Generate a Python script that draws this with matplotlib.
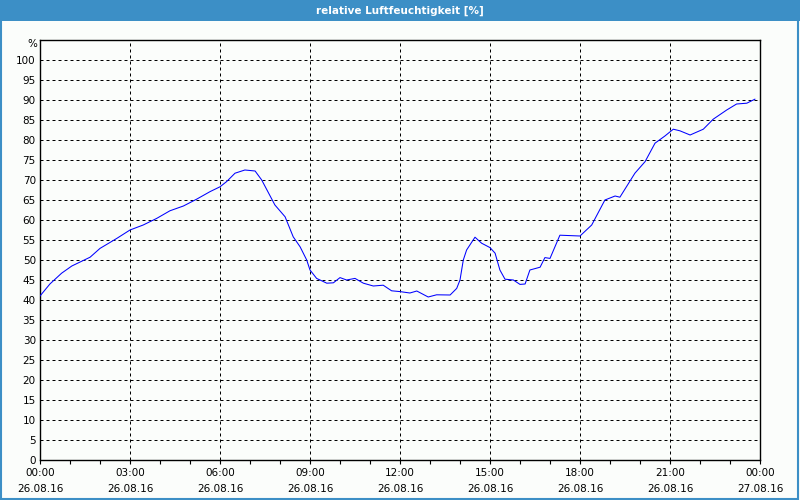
import matplotlib.pyplot as plt
from matplotlib.patches import Rectangle

# Stunden seit 26.08.16 00:00 und relative Luftfeuchtigkeit in %
hours = [0.0, 0.33, 0.72, 1.06, 1.67, 2.0, 2.56, 3.0, 3.44, 3.89, 4.33, 4.78,
         5.22, 5.67, 6.0, 6.22, 6.5, 6.83, 7.17, 7.39, 7.83, 8.17, 8.44, 8.67,
         8.89, 9.0, 9.22, 9.56, 9.78, 10.0, 10.22, 10.5, 10.78, 11.11, 11.44,
         11.72, 12.0, 12.33, 12.56, 12.94, 13.22, 13.67, 13.89, 14.0, 14.11,
         14.22, 14.5, 14.72, 15.0, 15.17, 15.33, 15.5, 15.78, 16.0, 16.17,
         16.33, 16.67, 16.83, 17.0, 17.33, 18.0, 18.39, 18.83, 19.17, 19.33,
         19.83, 20.17, 20.5, 20.83, 21.11, 21.33, 21.67, 22.11, 22.44, 22.89,
         23.22, 23.56, 23.83]
humidity = [41.0, 44.0, 46.7, 48.5, 50.7, 52.9, 55.4, 57.5, 58.75, 60.4, 62.3, 63.5,
            65.2, 67.1, 68.3, 69.6, 71.7, 72.5, 72.25, 70.0, 63.75, 60.8, 55.8, 53.3,
            50.0, 47.5, 45.4, 44.2, 44.3, 45.6, 45.0, 45.4, 44.2, 43.5, 43.7,
            42.3, 42.1, 41.75, 42.25, 40.75, 41.3, 41.25, 42.9, 45.0, 50.0,
            52.5, 55.7, 54.2, 53.1, 51.7, 47.5, 45.2, 45.0, 43.9, 44.0,
            47.5, 48.2, 50.6, 50.4, 56.2, 56.0, 58.75, 65.0, 66.0, 65.7,
            71.7, 74.6, 79.2, 81.0, 82.7, 82.3, 81.25, 82.7, 85.2, 87.5,
            89.0, 89.2, 90.2]

x_ticks = [0, 3, 6, 9, 12, 15, 18, 21, 24]
x_labels = ["00:00\n26.08.16", "03:00\n26.08.16", "06:00\n26.08.16",
            "09:00\n26.08.16", "12:00\n26.08.16", "15:00\n26.08.16",
            "18:00\n26.08.16", "21:00\n26.08.16", "00:00\n27.08.16"]
y_ticks = list(range(0, 101, 5))

title = "relative Luftfeuchtigkeit [%]"
blue = "#3c8fc6"

fig = plt.figure(figsize=(8, 5), dpi=100)
fig.patch.set_facecolor("#fbfdfb")

# Titelleiste und Rahmen
fig.patches.append(Rectangle((0, 1 - 21 / 500), 1, 21 / 500, transform=fig.transFigure,
                             facecolor=blue, edgecolor="none", zorder=0))
fig.patches.append(Rectangle((0.001, 0.002), 0.997, 0.996, transform=fig.transFigure,
                             facecolor="none", edgecolor=blue, linewidth=1.5, zorder=1))
fig.text(0.5, 1 - 10.5 / 500, title, color="white", fontsize=7.5, fontweight="bold",
         ha="center", va="center")

ax = fig.add_axes([40 / 800, 40 / 500, 720 / 800, 420 / 500])
ax.set_facecolor("#fbfdfb")

ax.plot(hours, humidity, color="#0000ff", linewidth=0.75, zorder=3)

ax.set_xlim(0, 24)
ax.set_ylim(0, 105)
ax.set_xticks(x_ticks)
ax.set_xticklabels(x_labels, fontsize=7.5, linespacing=1.7)
ax.set_xticks(range(0, 25), minor=True)
ax.set_yticks(y_ticks)
ax.set_yticklabels([str(v) for v in y_ticks], fontsize=7.5)
ax.tick_params(axis="x", which="both", length=3, width=0.8, pad=3)
ax.tick_params(axis="y", which="both", length=0, pad=3)
ax.text(-0.1, 104, "%", fontsize=7.5, ha="right", va="center")

ax.grid(True, which="major", color="black", linewidth=0.72, linestyle=(0, (3, 3)))
for s in ax.spines.values():
    s.set_linewidth(1.0)
    s.set_color("black")

fig.savefig("out.png", dpi=100, facecolor=fig.get_facecolor())
